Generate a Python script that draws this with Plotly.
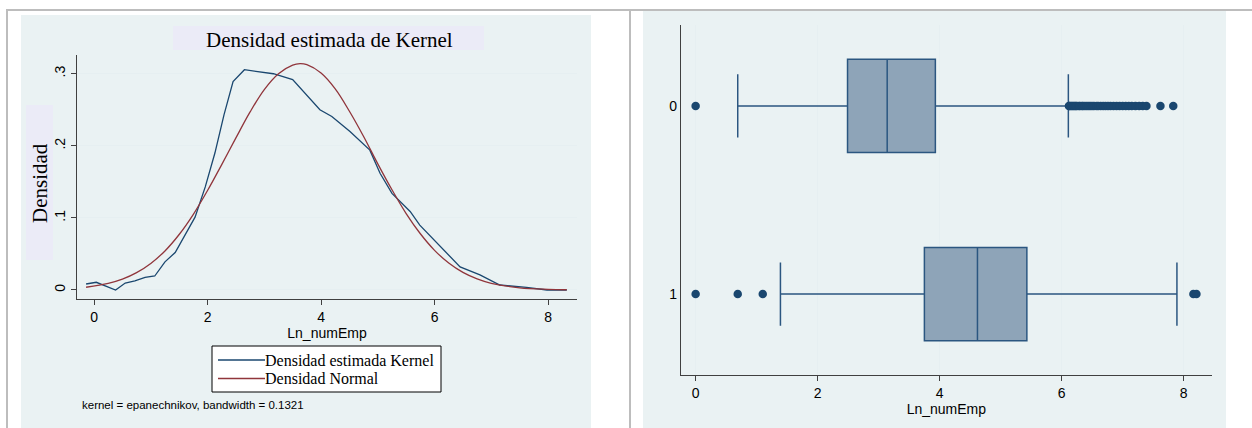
import plotly.graph_objects as go

W, H = 1252, 428

# ---------------- data ----------------
kde_x = [-0.14, 0.04, 0.38, 0.55, 0.72, 0.90, 1.07, 1.25, 1.43, 1.60, 1.78, 1.96, 2.13, 2.29,
         2.45, 2.65, 3.16, 3.50, 3.98, 4.19, 4.51, 4.86, 5.04, 5.25, 5.57, 5.74, 6.10, 6.45,
         6.80, 7.15, 7.62, 7.98, 8.33]
kde_y = [0.0083, 0.0107, 0.0, 0.0097, 0.0125, 0.0176, 0.0194, 0.039, 0.052, 0.076, 0.101,
         0.143, 0.190, 0.243, 0.289, 0.3056, 0.300, 0.292, 0.250, 0.2407, 0.220, 0.194, 0.162,
         0.134, 0.109, 0.090, 0.060, 0.032, 0.021, 0.0069, 0.0037, 0.0, 0.0]

norm_x = [-0.14, 0.25, 0.5, 0.75, 1.0, 1.25, 1.5, 1.75, 2.0, 2.25, 2.5, 2.75, 3.0, 3.25, 3.5,
          3.63, 3.75, 4.0, 4.25, 4.5, 4.75, 5.0, 5.25, 5.5, 5.75, 6.0, 6.25, 6.5, 6.75, 7.0,
          7.5, 8.0, 8.33]
norm_y = [0.0038, 0.0091, 0.0150, 0.024, 0.0368, 0.0542, 0.077, 0.105, 0.138, 0.174, 0.211,
          0.247, 0.278, 0.300, 0.312, 0.314, 0.3126, 0.301, 0.279, 0.248, 0.213, 0.175, 0.139,
          0.106, 0.078, 0.055, 0.0374, 0.0244, 0.0154, 0.0093, 0.0030, 0.00085, 0.0003]

groups = [0, 1]
q1 = [2.49, 3.75]
median = [3.14, 4.62]
q3 = [3.93, 5.43]
lower_whisker = [0.69, 1.39]
upper_whisker = [6.11, 7.89]

outliers_0 = [0.0, 6.12, 6.13, 6.15, 6.17, 6.19, 6.21, 6.23, 6.25, 6.28, 6.30, 6.33, 6.35,
              6.38, 6.41, 6.44, 6.47, 6.50, 6.53, 6.57, 6.60, 6.64, 6.68, 6.72, 6.76, 6.80,
              6.85, 6.90, 6.95, 7.00, 7.05, 7.10, 7.15, 7.21, 7.27, 7.33, 7.39, 7.62, 7.83]
outliers_1 = [0.0, 0.69, 1.10, 8.16, 8.21]

x_ticks = [0, 2, 4, 6, 8]
y_ticks_left = [0, 0.1, 0.2, 0.3]
y_ticklabels_left = ["0", ".1", ".2", ".3"]
legend_labels = ["Densidad estimada Kernel", "Densidad Normal"]

# ---------------- styles ----------------
NAVY = "#1a476f"
MAROON = "#90353b"
BG = "#eaf2f3"
LAV = "#ebebf7"
AXC = "#404040"
GRID = "#e6eff1"
SANS = "Liberation Sans, Arial, sans-serif"
SERIF = "Liberation Serif, Times New Roman, serif"


def X(px):
    return px / W


def Y(py):
    return 1 - py / H


fig = go.Figure()

fig.add_trace(go.Scatter(x=kde_x, y=kde_y, mode="lines", name=legend_labels[0],
                         line=dict(color=NAVY, width=1.3), xaxis="x", yaxis="y",
                         showlegend=False))
fig.add_trace(go.Scatter(x=norm_x, y=norm_y, mode="lines", name=legend_labels[1],
                         line=dict(color=MAROON, width=1.3, shape="spline"), xaxis="x", yaxis="y",
                         showlegend=False))

for i, g in enumerate(groups):
    fig.add_trace(go.Box(q1=[q1[i]], median=[median[i]], q3=[q3[i]],
                         lowerfence=[lower_whisker[i]], upperfence=[upper_whisker[i]],
                         y=[g], orientation="h", width=0.495, whiskerwidth=0.68,
                         fillcolor="#8ea4b8", line=dict(color="#2b5680", width=1.5),
                         boxpoints=False, showlegend=False, hoverinfo="skip",
                         xaxis="x2", yaxis="y2"))

for g, outs in zip(groups, [outliers_0, outliers_1]):
    fig.add_trace(go.Scatter(x=outs, y=[g] * len(outs), mode="markers",
                             marker=dict(color=NAVY, size=8.5), showlegend=False,
                             xaxis="x2", yaxis="y2"))

shapes = [
    # panel backgrounds
    dict(type="rect", xref="paper", yref="paper", x0=X(21), x1=X(591), y0=Y(428), y1=Y(15),
         fillcolor=BG, line=dict(width=0), layer="below"),
    dict(type="rect", xref="paper", yref="paper", x0=X(643), x1=X(1226), y0=Y(428), y1=Y(10),
         fillcolor=BG, line=dict(width=0), layer="below"),
    # title box and y title box
    dict(type="rect", xref="paper", yref="paper", x0=X(173), x1=X(484), y0=Y(50), y1=Y(26),
         fillcolor=LAV, line=dict(width=0), layer="below"),
    dict(type="rect", xref="paper", yref="paper", x0=X(26), x1=X(53), y0=Y(260), y1=Y(105),
         fillcolor=LAV, line=dict(width=0), layer="below"),
    # table borders
    dict(type="line", xref="paper", yref="paper", x0=X(6), x1=X(1252), y0=Y(10), y1=Y(10),
         line=dict(color="#bdbdbd", width=2)),
    dict(type="line", xref="paper", yref="paper", x0=X(7), x1=X(7), y0=Y(10), y1=Y(428),
         line=dict(color="#bdbdbd", width=2)),
    dict(type="line", xref="paper", yref="paper", x0=X(630), x1=X(630), y0=Y(10), y1=Y(428),
         line=dict(color="#bdbdbd", width=2)),
    # legend box and keys
    dict(type="rect", xref="paper", yref="paper", x0=X(212), x1=X(441), y0=Y(392), y1=Y(346),
         fillcolor="white", line=dict(color="black", width=1)),
    dict(type="line", xref="paper", yref="paper", x0=X(218), x1=X(265), y0=Y(360), y1=Y(360),
         line=dict(color=NAVY, width=1.3)),
    dict(type="line", xref="paper", yref="paper", x0=X(218), x1=X(265), y0=Y(378.5), y1=Y(378.5),
         line=dict(color=MAROON, width=1.3)),
]

annotations = [
    dict(text="Densidad estimada de Kernel", xref="paper", yref="paper", x=X(329), y=Y(40),
         showarrow=False, font=dict(family=SERIF, size=21, color="black"),
         xanchor="center", yanchor="middle"),
    dict(text="Densidad", xref="paper", yref="paper", x=X(40), y=Y(183), textangle=-90,
         showarrow=False, font=dict(family=SERIF, size=21, color="black"),
         xanchor="center", yanchor="middle"),
    dict(text="kernel = epanechnikov, bandwidth = 0.1321", xref="paper", yref="paper",
         x=X(80), y=Y(405), showarrow=False, font=dict(family=SANS, size=11.5, color="black"),
         xanchor="left", yanchor="middle"),
    dict(text=legend_labels[0], xref="paper", yref="paper", x=X(265), y=Y(360),
         showarrow=False, font=dict(family=SERIF, size=16, color="black"),
         xanchor="left", yanchor="middle", xshift=-2),
    dict(text=legend_labels[1], xref="paper", yref="paper", x=X(265), y=Y(378.5),
         showarrow=False, font=dict(family=SERIF, size=16, color="black"),
         xanchor="left", yanchor="middle", xshift=-2),
]

fig.update_layout(
    width=W, height=H, autosize=False,
    margin=dict(l=0, r=0, t=0, b=0),
    paper_bgcolor="white", plot_bgcolor="white",
    shapes=shapes, annotations=annotations,
    showlegend=False,
    xaxis=dict(domain=[X(77), X(577)], anchor="y", range=[-0.30, 8.51],
               tickvals=x_ticks, ticks="outside", ticklen=5, tickcolor=AXC,
               showline=True, linecolor=AXC, linewidth=1.2, showgrid=False, zeroline=False,
               tickfont=dict(family=SANS, size=14, color="black"),
               title=dict(text="Ln_numEmp", font=dict(family=SANS, size=14, color="black"),
                          standoff=0)),
    yaxis=dict(domain=[Y(299), Y(55)], anchor="x", range=[-0.0125, 0.326],
               tickvals=y_ticks_left, ticktext=y_ticklabels_left, tickangle=-90,
               ticks="outside", ticklen=5, tickcolor=AXC,
               showline=True, linecolor=AXC, linewidth=1.2, showgrid=True, gridcolor=GRID,
               gridwidth=1, zeroline=False,
               tickfont=dict(family=SANS, size=14, color="black")),
    xaxis2=dict(domain=[X(681), X(1211.7)], anchor="y2", range=[-0.24, 8.46],
                tickvals=x_ticks, ticks="outside", ticklen=5, tickcolor=AXC,
                showline=True, linecolor=AXC, linewidth=1.2, showgrid=True, gridcolor=GRID,
                zeroline=False,
                tickfont=dict(family=SANS, size=14, color="black"),
                title=dict(text="Ln_numEmp", font=dict(family=SANS, size=14, color="black"),
                           standoff=0)),
    yaxis2=dict(domain=[Y(375), Y(25)], anchor="x2", range=[1.43, -0.43],
                tickvals=groups, ticktext=[str(g) for g in groups], ticks="",
                showline=True, linecolor=AXC, linewidth=1.2, showgrid=False, zeroline=False,
                tickfont=dict(family=SANS, size=14, color="black")),
)

fig.write_html("out.html", config={"displayModeBar": False},
               post_script="document.body.style.margin='0px';")
